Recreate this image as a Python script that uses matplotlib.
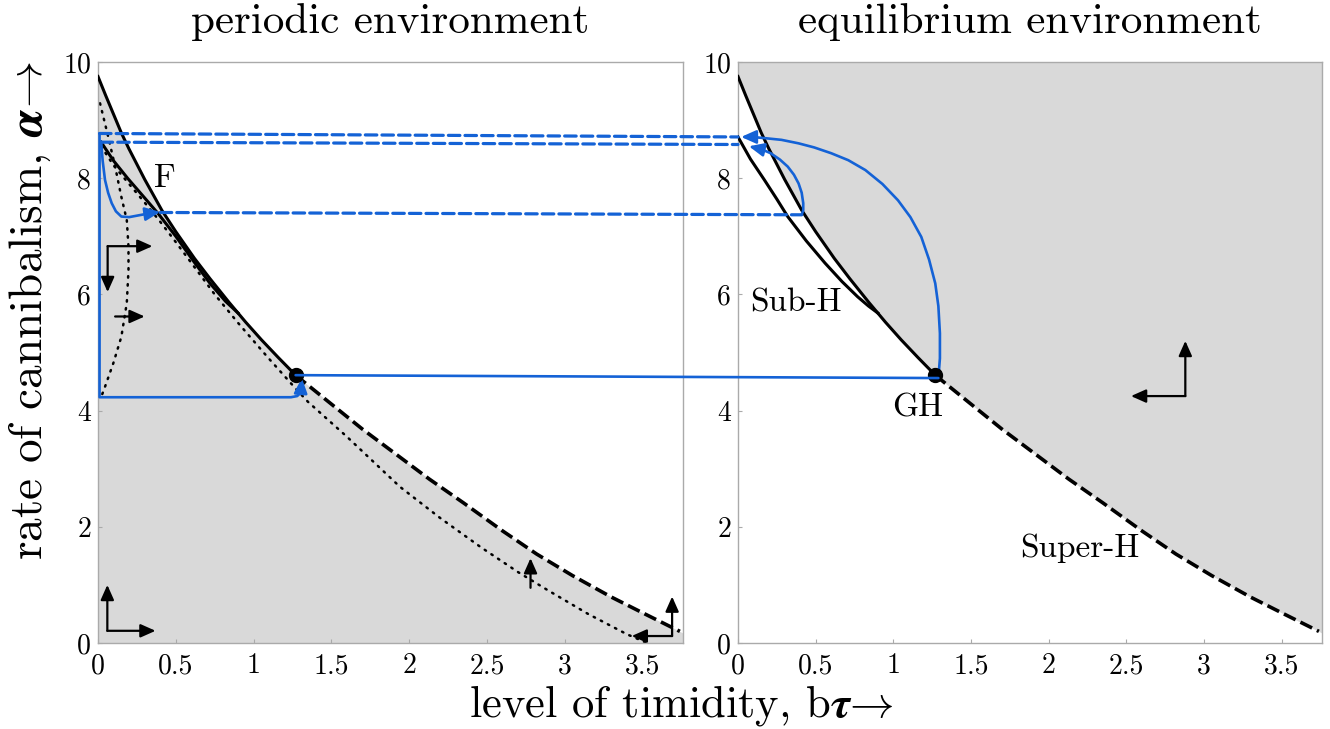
import matplotlib
matplotlib.use("Agg")
import matplotlib.pyplot as plt
from matplotlib.patches import ConnectionPatch

plt.rcParams['font.family'] = ['cmr10', 'DejaVu Serif']
plt.rcParams['mathtext.fontset'] = 'cm'
plt.rcParams['axes.formatter.use_mathtext'] = True

# ---------------- data ----------------
# Hopf curve (solid part, up to GH) shared by both panels
hopf_x = [0.0, 0.05, 0.1, 0.15, 0.2, 0.3, 0.41, 0.5, 0.62, 0.72, 0.84, 0.95, 1.05, 1.16, 1.27]
hopf_y = [9.75, 9.42, 9.1, 8.78, 8.5, 7.98, 7.45, 7.08, 6.62, 6.27, 5.87, 5.52, 5.22, 4.91, 4.61]
# Hopf curve (dashed part, after GH)
hopfd_x = [1.27, 1.45, 1.7, 1.95, 2.13, 2.35, 2.6, 2.82, 3.05, 3.3, 3.5, 3.68, 3.74]
hopfd_y = [4.61, 4.22, 3.68, 3.18, 2.82, 2.41, 1.93, 1.53, 1.16, 0.79, 0.52, 0.28, 0.2]
# fold curve, left panel
foldL_x = [0.02, 0.1, 0.19, 0.3, 0.39, 0.5, 0.62, 0.72, 0.82, 0.9]
foldL_y = [8.62, 8.3, 8.0, 7.66, 7.38, 7.0, 6.55, 6.19, 5.88, 5.68]
# fold curve, right panel
foldR_x = [0.0, 0.08, 0.17, 0.25, 0.32, 0.44, 0.56, 0.67, 0.77, 0.84, 0.9]
foldR_y = [8.71, 8.33, 7.97, 7.64, 7.34, 6.92, 6.54, 6.22, 5.96, 5.8, 5.68]
# dotted curves, left panel
dot1_x = [0.013, 0.066, 0.11, 0.15, 0.185, 0.196, 0.196, 0.185, 0.15, 0.099, 0.045, 0.013]
dot1_y = [9.29, 8.71, 8.2, 7.68, 7.28, 6.82, 6.42, 5.85, 5.27, 4.82, 4.41, 4.18]
dot2_x = [0.02, 0.1, 0.2, 0.3, 0.4, 0.5, 0.62, 0.75, 0.9, 1.09, 1.27, 1.35, 1.6, 1.94, 2.2, 2.46, 2.7, 2.89, 3.15, 3.4, 3.53]
dot2_y = [8.55, 8.22, 7.9, 7.58, 7.25, 6.9, 6.47, 6.0, 5.51, 4.92, 4.38, 4.15, 3.55, 2.69, 2.15, 1.65, 1.22, 0.91, 0.5, 0.15, 0.0]
# GH point
gh = (1.27, 4.61)
# blue trajectories, left panel
blueL1_x = [0.01, 0.01, 1.24, 1.28, 1.30, 1.305]
blueL1_y = [8.77, 4.23, 4.23, 4.25, 4.30, 4.38]
blueL1_tip = (1.31, 4.56)
blueL2_x = [0.02, 0.03, 0.045, 0.065, 0.088, 0.115, 0.15, 0.2, 0.26, 0.32]
blueL2_y = [8.63, 8.3, 7.97, 7.75, 7.57, 7.43, 7.34, 7.33, 7.36, 7.39]
blueL2_tip = (0.40, 7.42)
# blue trajectories, right panel
blueR1_x = [1.29, 1.30, 1.30, 1.29, 1.27, 1.23, 1.18, 1.11, 1.03, 0.93, 0.82, 0.71, 0.60, 0.49, 0.39, 0.28, 0.17, 0.09]
blueR1_y = [4.56, 4.9, 5.33, 5.8, 6.19, 6.6, 6.99, 7.33, 7.62, 7.9, 8.14, 8.31, 8.43, 8.53, 8.6, 8.66, 8.69, 8.71]
blueR1_tip = (0.02, 8.71)
blueR2_x = [0.41, 0.42, 0.42, 0.41, 0.39, 0.36, 0.32, 0.27, 0.21, 0.15]
blueR2_y = [7.37, 7.45, 7.57, 7.75, 7.91, 8.06, 8.2, 8.32, 8.43, 8.5]
blueR2_tip = (0.07, 8.55)
# dashed connectors between the panels: (left point, right point)
links_dashed = [((0.01, 8.77), (0.0, 8.71)),
                ((0.02, 8.62), (0.0, 8.58)),
                ((0.40, 7.41), (0.41, 7.37))]
link_solid = ((1.27, 4.61), (1.29, 4.56))
# direction arrows: (corner, [tips])
arrowsL = [((0.062, 6.83), [(0.062, 6.04), (0.35, 6.83)]),
           ((0.11, 5.62), [(0.30, 5.62)]),
           ((0.06, 0.21), [(0.06, 1.0), (0.37, 0.21)]),
           ((2.78, 0.95), [(2.78, 1.46)]),
           ((3.69, 0.12), [(3.69, 0.80), (3.43, 0.12)])]
arrowsR = [((2.88, 4.25), [(2.88, 5.2), (2.53, 4.25)])]

xticks = [0, 0.5, 1, 1.5, 2, 2.5, 3, 3.5]
xtick_labels = ['0', '0.5', '1', '1.5', '2', '2.5', '3', '3.5']
yticks = [0, 2, 4, 6, 8, 10]
ytick_labels = ['0', '2', '4', '6', '8', '10']

BLUE = '#1462d6'
GRAY = '#d9d9d9'
XMAX = 3.76

fig = plt.figure(figsize=(13.3, 7.29), dpi=100)
W, H = 1330, 729
ax1 = fig.add_axes([98 / W, 1 - 643 / H, 585 / W, 581 / H])
ax2 = fig.add_axes([738 / W, 1 - 643 / H, 584 / W, 581 / H])

full_x = hopf_x + hopfd_x[1:] + [XMAX]
full_y = hopf_y + hopfd_y[1:] + [hopfd_y[-1] - 0.03]

for ax in (ax1, ax2):
    ax.set_xlim(0, XMAX)
    ax.set_ylim(0, 10)
    ax.set_xticks(xticks, xtick_labels)
    ax.set_yticks(yticks, ytick_labels)
    ax.tick_params(direction='in', length=3, color='#aaaaaa', labelsize=20, pad=5)
    ax.tick_params(axis='x', pad=7)
    for s in ax.spines.values():
        s.set_color('#aaaaaa')
        s.set_linewidth(1.0)

# left panel
ax1.fill_between(full_x, 0, full_y, color=GRAY, lw=0, zorder=0)
ax1.plot(dot1_x, dot1_y, color='k', lw=1.8, ls=(0, (0.6, 2.6)), dash_capstyle='round', zorder=2)
ax1.plot(dot2_x, dot2_y, color='k', lw=1.8, ls=(0, (0.6, 2.6)), dash_capstyle='round', zorder=2)
ax1.plot(hopf_x, hopf_y, color='k', lw=2.2, zorder=3)
ax1.plot(foldL_x, foldL_y, color='k', lw=2.2, zorder=3)
ax1.plot(hopfd_x, hopfd_y, color='k', lw=2.6, ls=(0, (3.6, 1.5)), zorder=3)

# right panel
ax2.fill_between(full_x, full_y, 10, color=GRAY, lw=0, zorder=0)
ax2.plot(hopf_x, hopf_y, color='k', lw=2.2, zorder=3)
ax2.plot(foldR_x, foldR_y, color='k', lw=2.2, zorder=3)
ax2.plot(hopfd_x, hopfd_y, color='k', lw=2.6, ls=(0, (3.6, 1.5)), zorder=3)


def blue_path(ax, xs, ys, tip):
    ax.plot(xs, ys, color=BLUE, lw=1.9, zorder=4, solid_capstyle='round', solid_joinstyle='round')
    ax.annotate('', xy=tip, xytext=(xs[-1], ys[-1]),
                arrowprops=dict(arrowstyle='-|>,head_length=0.45,head_width=0.2', mutation_scale=20,
                                color=BLUE, lw=1.9, shrinkA=0, shrinkB=0), zorder=5)


blue_path(ax1, blueL1_x, blueL1_y, blueL1_tip)
blue_path(ax1, blueL2_x, blueL2_y, blueL2_tip)
blue_path(ax2, blueR1_x, blueR1_y, blueR1_tip)
blue_path(ax2, blueR2_x, blueR2_y, blueR2_tip)

for (pa, pb) in links_dashed:
    cp = ConnectionPatch(xyA=pa, coordsA=ax1.transData, xyB=pb, coordsB=ax2.transData,
                         color=BLUE, lw=2.3, ls=(0, (3.6, 1.6)), zorder=6)
    fig.add_artist(cp)
cp = ConnectionPatch(xyA=link_solid[0], coordsA=ax1.transData, xyB=link_solid[1], coordsB=ax2.transData,
                     color=BLUE, lw=1.9, zorder=6)
fig.add_artist(cp)

for ax in (ax1, ax2):
    ax.plot([gh[0]], [gh[1]], 'o', color='k', ms=10, zorder=7)


def draw_arrows(ax, arrows):
    for corner, tips in arrows:
        for tip in tips:
            ax.annotate('', xy=tip, xytext=corner,
                        arrowprops=dict(arrowstyle='-|>,head_length=0.45,head_width=0.2', mutation_scale=20,
                                        color='k', lw=1.6, shrinkA=0, shrinkB=0), zorder=5)


draw_arrows(ax1, arrowsL)
draw_arrows(ax2, arrowsR)

ax1.text(0.43, 8.0, 'F', fontsize=24, ha='center', va='center', zorder=8)
ax2.text(0.37, 5.85, 'Sub-H', fontsize=24, ha='center', va='center', zorder=8)
ax2.text(1.16, 4.05, 'GH', fontsize=24, ha='center', va='center', zorder=8)
ax2.text(2.2, 1.63, 'Super-H', fontsize=24, ha='center', va='center', zorder=8)

fig.text(390.5 / W, 1 - 22 / H, 'periodic environment', fontsize=31, ha='center', va='center')
fig.text(1030 / W, 1 - 22 / H, 'equilibrium environment', fontsize=31, ha='center', va='center')
fig.text(681 / W, 1 - 706 / H, r'level of timidity, b$\boldsymbol{\tau}\!\rightarrow$', fontsize=32,
         ha='center', va='center')
fig.text(30 / W, 1 - 311 / H, r'rate of cannibalism, $\boldsymbol{\alpha}\!\rightarrow$', fontsize=34,
         ha='center', va='center', rotation=90)

fig.savefig('out.png', dpi=100)
